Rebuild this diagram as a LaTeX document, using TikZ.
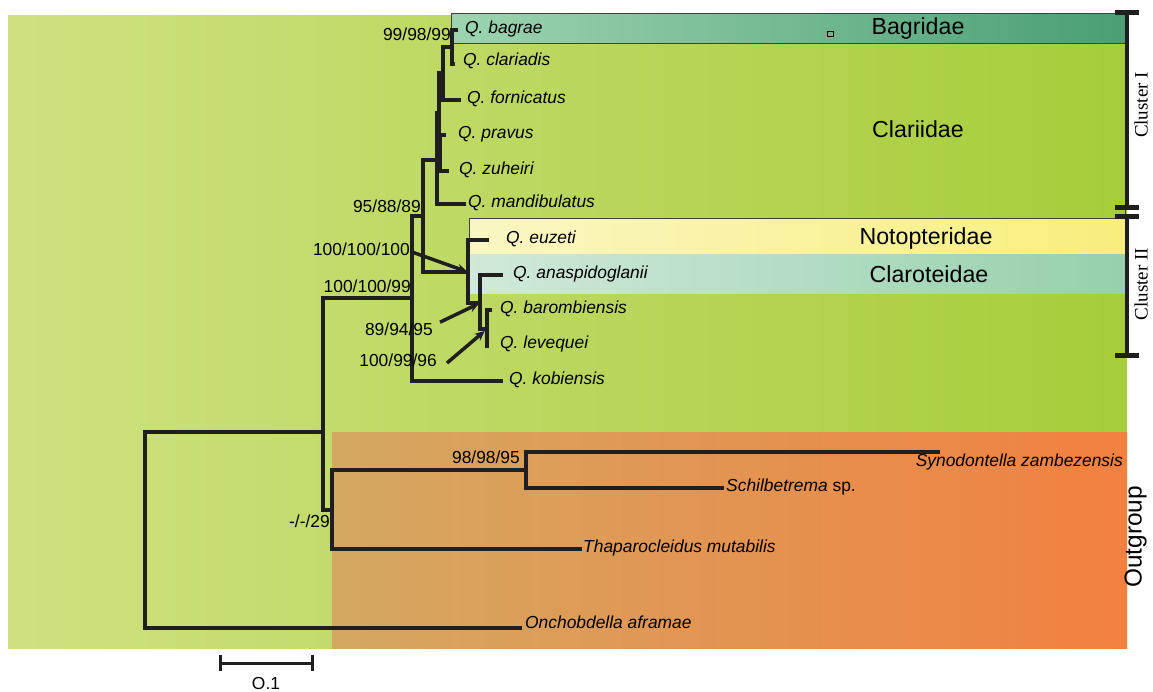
\documentclass[tikz,border=0pt]{standalone}
\usepackage{fontspec}
\setmainfont{Liberation Sans}
\newfontfamily\clusterfont{Liberation Serif}
\usetikzlibrary{positioning,arrows.meta}

\definecolor{bgleft}{RGB}{206,225,128}
\definecolor{bgmid}{RGB}{192,218,98}
\definecolor{bgright}{RGB}{166,205,58}
\definecolor{outleft}{RGB}{212,168,98}
\definecolor{outmid}{RGB}{226,150,82}
\definecolor{outright}{RGB}{242,128,64}
\definecolor{bagleft}{RGB}{156,212,176}
\definecolor{bagright}{RGB}{74,158,116}
\definecolor{notoleft}{RGB}{250,246,196}
\definecolor{notoright}{RGB}{248,238,124}
\definecolor{claroleft}{RGB}{208,233,217}
\definecolor{claroright}{RGB}{150,208,172}

\newcommand\leaffont{\fontsize{17.4}{20}\selectfont}
\newcommand\famfont{\fontsize{23.2}{26}\selectfont}

\begin{document}
\begin{tikzpicture}[x=1pt, y=-1pt, line join=miter,
  branch/.style={line width=3.5pt, draw=black!88},
  leaf/.style={inner sep=1pt, text height=0.72em, text depth=0pt, font=\leaffont\itshape},
  support/.style={inner sep=0pt, text height=0.72em, text depth=0pt, anchor=east},
  family/.style={text height=0.72em, text depth=0pt, font=\famfont},
  pointer/.style={line width=3.5pt, draw=black!88, -{Stealth[length=10pt,width=9pt]}},
  clusterbar/.style={line width=3.5pt, draw=black!88, {Bar[width=24pt,line width=5pt]}-{Bar[width=24pt,line width=5pt]}},
  scalebar/.style={line width=3pt, draw=black!88, {Bar[width=16pt,line width=3pt]}-{Bar[width=16pt,line width=3pt]}},
  boxline/.style={draw=black!75, line width=1pt}]
\tikzstyle{every node}=[font=\leaffont]
\useasboundingbox (0,0) rectangle (1153,691);

% backgrounds
\fill[left color=bgleft, middle color=bgmid, right color=bgright] (8,15) rectangle (1127,648);
\fill[left color=outleft, middle color=outmid, right color=outright] (332,432) rectangle (1127,648);
\filldraw[boxline, left color=bagleft, right color=bagright] (451,13) rectangle (1127,43);
\fill[left color=notoleft, right color=notoright] (469,218) rectangle (1127,254);
\fill[left color=claroleft, right color=claroright] (469,254) rectangle (1127,293);
\draw[boxline] (469,293) -- (469,218) -- (1127,218);
\draw[boxline] (1125,43) -- (1125,218);
\node[draw, line width=0.8pt, inner sep=0pt, minimum width=6pt, minimum height=5pt] (marker) at (830,34) {};

% families
\node[family] (bagridae) at (918,31) {Bagridae};
\node[family] (clariidae) at (918,134) {Clariidae};
\node[family] (notopteridae) at (926,241) {Notopteridae};
\node[family] (claroteidae) at (929,279) {Claroteidae};

% leaves
\coordinate (bagrae) at (458,30);
\coordinate (clariadis) at (455,64);
\coordinate (fornicatus) at (461,100);
\coordinate (pravus) at (446,135);
\coordinate (zuheiri) at (449,171);
\coordinate (mandibulatus) at (466,204);
\coordinate (euzeti) at (489,240);
\coordinate (anaspidoglanii) at (503,275);
\coordinate (barombiensis) at (492,310);
\coordinate (levequei) at (487,348);
\coordinate (kobiensis) at (503,381);
\coordinate (synodontella) at (940,452);
\coordinate (schilbetrema) at (724,488);
\coordinate (thaparocleidus) at (582,549);
\coordinate (onchobdella) at (522,628);

\node[leaf, right=6pt of bagrae] (lbagrae) {Q. bagrae};
\node[leaf, right=7pt of clariadis, yshift=2pt] (lclariadis) {Q. clariadis};
\node[leaf, right=5pt of fornicatus] (lfornicatus) {Q. fornicatus};
\node[leaf, right=11pt of pravus] (lpravus) {Q. pravus};
\node[leaf, right=9pt of zuheiri] (lzuheiri) {Q. zuheiri};
\node[leaf, right=1pt of mandibulatus] (lmandibulatus) {Q. mandibulatus};
\node[leaf, right=16pt of euzeti] (leuzeti) {Q. euzeti};
\node[leaf, right=9pt of anaspidoglanii] (lanaspidoglanii) {Q. anaspidoglanii};
\node[leaf, right=7pt of barombiensis] (lbarombiensis) {Q. barombiensis};
\node[leaf, right=12pt of levequei, yshift=3pt] (llevequei) {Q. levequei};
\node[leaf, right=5pt of kobiensis] (lkobiensis) {Q. kobiensis};
\node[leaf, anchor=east] (lsynodontella) at (1124,463) {Synodontella zambezensis};
\node[leaf, right=1pt of schilbetrema] (lschilbetrema) {Schilbetrema \upshape sp.};
\node[leaf, right=0pt of thaparocleidus] (lthaparocleidus) {Thaparocleidus mutabilis};
\node[leaf, right=2pt of onchobdella, yshift=3pt] (lonchobdella) {Onchobdella aframae};

% inner nodes
\coordinate (n1) at (452,47);
\coordinate (n2) at (443,73);
\coordinate (n3) at (440,153);
\coordinate (n4) at (439,113);
\coordinate (n5) at (437,160);
\coordinate (n6) at (423,216);
\coordinate (n7) at (468,272);
\coordinate (n9) at (480,303);
\coordinate (n10) at (487,329);
\coordinate (n8) at (412,298);
\coordinate (n11) at (323,432);
\coordinate (n12) at (332,510);
\coordinate (n13) at (526,470);
\coordinate (root) at (145,530);

\draw[branch] (bagrae) -| (n1) |- (clariadis);
\draw[branch] (n1) -| (n2) |- (fornicatus);
\draw[branch] (pravus) -| (n3) |- (zuheiri);
\draw[branch] (n2) -| (n4) |- (n3);
\draw[branch] (n4) -| (n5) |- (mandibulatus);
\draw[branch] (n5) -| (n6) |- (n7);
\draw[branch] (euzeti) -| (n7) |- (n9);
\draw[branch] (anaspidoglanii) -| (n9) |- (n10);
\draw[branch] (barombiensis) -| (n10) |- (levequei);
\draw[branch] (n6) -| (n8) |- (kobiensis);
\draw[branch] (n8) -| (n11) |- (n12);
\draw[branch] (synodontella) -| (n13) |- (schilbetrema);
\draw[branch] (n13) -| (n12) |- (thaparocleidus);
\draw[branch] (n11) -| (root) |- (onchobdella);

% support values
\node[support] (s1) at (451,37) {99/98/99};
\node[support] (s2) at (421,209) {95/88/89};
\node[support] (s3) at (410,252) {100/100/100};
\node[support] (s4) at (411,289) {100/100/99};
\node[support] (s5) at (433,332) {89/94/95};
\node[support] (s6) at (437,363) {100/99/96};
\node[support] (s7) at (520,460) {98/98/95};
\node[support] (s8) at (330,524) {-/-/29};

\draw[pointer, shorten >=1pt] ([xshift=2pt]s3.east) -- (n7);
\draw[pointer, shorten >=1pt] ([shift={(7,-6)}]s5.north east) -- (n9);
\draw[pointer, shorten >=3pt] ([xshift=10pt]s6.east) -- (n10);

% clusters
\coordinate (c1top) at (1127,10);
\coordinate (c1bot) at (1127,210);
\coordinate (c2top) at (1127,214);
\coordinate (c2bot) at (1127,358);
\draw[clusterbar] (c1top) -- (c1bot);
\draw[clusterbar] (c2top) -- (c2bot);
\node[rotate=90, font=\clusterfont\fontsize{19}{22}\selectfont] (cluster1) at (1141,105) {Cluster I};
\node[rotate=90, font=\clusterfont\fontsize{19}{22}\selectfont] (cluster2) at (1141,284) {Cluster II};
\node[rotate=90, text height=0.72em, text depth=0pt, font=\fontsize{24.4}{28}\selectfont] (outgroup) at (1138,537) {Outgroup};

% scale
\coordinate (sb1) at (219,663);
\coordinate (sb2) at (314,663);
\draw[scalebar] (sb1) -- (sb2);
\node (sblabel) at (266,683) {O.1};
\end{tikzpicture}
\end{document}
